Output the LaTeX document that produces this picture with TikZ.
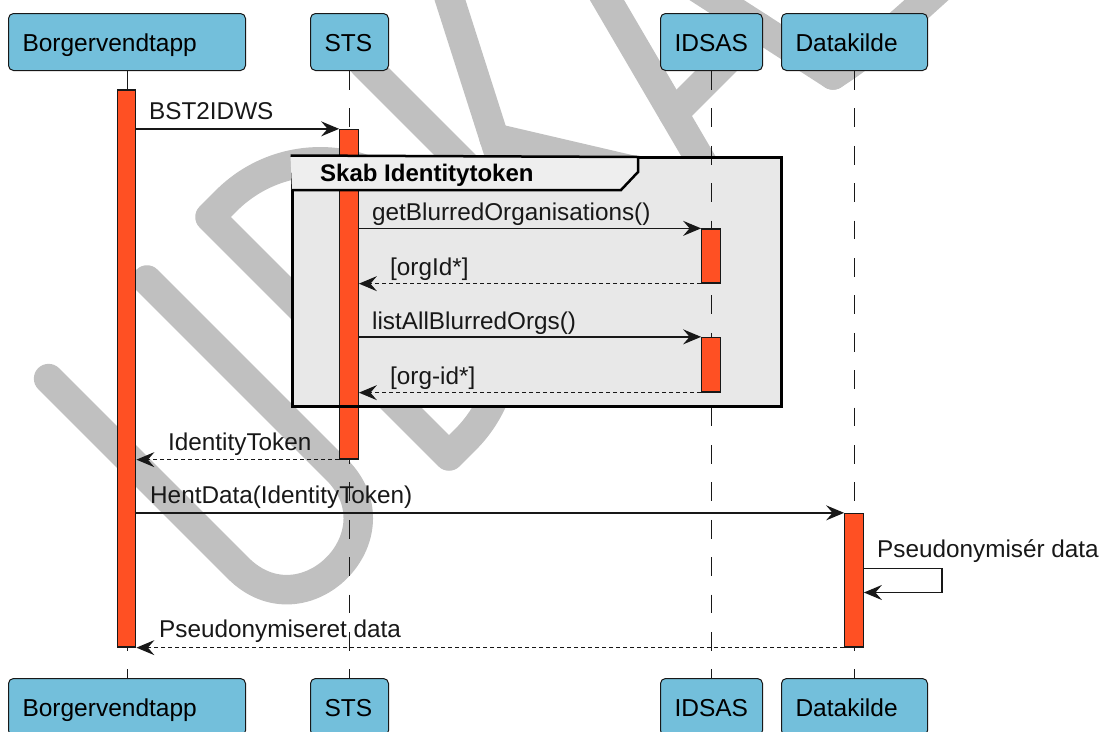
\documentclass[tikz,border=0pt]{standalone}
\usepackage{fontspec}
\setmainfont{Liberation Sans}
\usetikzlibrary{arrows.meta}
\definecolor{pfill}{RGB}{115,191,219}
\definecolor{afill}{RGB}{255,80,35}
\definecolor{ink}{RGB}{24,24,24}
\definecolor{wm}{RGB}{192,192,192}
\definecolor{grpfill}{RGB}{232,232,232}
\definecolor{tabfill}{RGB}{238,238,238}
\begin{document}
\begin{tikzpicture}[x=1pt,y=-1pt,
  pbox/.style={draw=ink, line width=1pt, fill=pfill, rounded corners=5pt,
    minimum height=57pt, inner xsep=14pt, inner ysep=0pt,
    text height=24pt, text depth=5pt, align=left,
    font=\fontsize{24.5}{29}\selectfont, anchor=north west},
  lifeline/.style={draw=ink, line width=1pt, dash pattern=on 18.7pt off 18.7pt},
  act/.style={draw=ink, line width=1.3pt, fill=afill, minimum width=18.5pt, inner sep=0pt},
  msg/.style={draw=ink, line width=1.3pt, -{Stealth[length=18pt,width=15pt,inset=6.5pt]}},
  ret/.style={msg, dash pattern=on 4pt off 3pt},
  lbl/.style={font=\fontsize{24.3}{28}\selectfont, inner sep=0pt, anchor=base west, text=ink},
  wmk/.style={draw=wm, line width=29.5pt, line cap=round, line join=round}
]
\useasboundingbox (0,0) rectangle (1099,731);
\fill[white] (0,0) rectangle (1099,731);

% watermark
\draw[wmk] (48.6,378.6) -- (238,568) .. controls (303.7,633.7) and (402.3,535.2) .. (336.6,469.5) -- (147,280);
\draw[wmk] (210,217) -- (449,456) -- (465.3,439.7) .. controls (517.2,387.8) and (517.2,303.6) .. (465.3,251.7)
  -- (414.4,200.8) .. controls (362.4,148.8) and (278.2,148.8) .. (226.3,200.7) -- cycle;
\draw[wmk] (363.5,63.5) -- (602.5,302.5);
\draw[wmk] (444.4,-17.5) -- (520.5,220.5);
\draw[wmk] (494,138) -- (715,189.5);
\draw[wmk] (717,188) -- (540.5,-113.5) -- (833,75);
\draw[wmk] (673.5,113.5) -- (759.4,27.6);
\draw[wmk] (833,75) .. controls (880,45) and (920,5) .. (960,-30);

% group body fill
\fill[grpfill] (292,157) rectangle (781,406);

% participants
\node[pbox, text width=209pt] (pB) at (8,13) {Borgervendtapp};
\node[pbox, text width=50pt] (pS) at (310,13) {STS};
\node[pbox, text width=74pt] (pI) at (660,13) {IDSAS};
\node[pbox, text width=118pt] (pD) at (781,13) {Datakilde};
\node[pbox, text width=209pt] (qB) at (8,678) {Borgervendtapp};
\node[pbox, text width=50pt] (qS) at (310,678) {STS};
\node[pbox, text width=74pt] (qI) at (660,678) {IDSAS};
\node[pbox, text width=118pt] (qD) at (781,678) {Datakilde};

% lifelines
\draw[lifeline] (pB.south) -- (qB.north);
\draw[lifeline] (pS.south) -- (qS.north);
\draw[lifeline] (pI.south) -- (qI.north);
\draw[lifeline] (pD.south) -- (qD.north);

% activations
\node[act, minimum height=557pt] (aB) at (126.5,368.5) {};
\node[act, minimum height=329.5pt] (aS) at (349,294.25) {};
\node[act, minimum height=54pt] (aI1) at (711,256) {};
\node[act, minimum height=54.5pt] (aI2) at (711,364.75) {};
\node[act, minimum height=133.5pt] (aD) at (854,580.25) {};

% group frame
\node[draw=black, line width=3pt, minimum width=489pt, minimum height=249pt, inner sep=0pt] (grp) at (536.5,281.5) {};
\filldraw[fill=tabfill, draw=black, line width=2.5pt, line join=miter] (grp.north west) -- (638,157) -- (638,172) -- (621,190) -- (292,190);
\node[font=\bfseries\fontsize{24}{28}\selectfont, inner sep=0pt, anchor=base west] (gt) at (320,181.5) {Skab Identitytoken};

% messages
\coordinate (selfout) at (942,568.5);
\coordinate (selfin) at (942,592.5);
\draw[msg] (aB.east |- aS.north) -- (aS.north west);
\draw[msg] (aS.east |- aI1.north) -- (aI1.north west);
\draw[ret] (aI1.south west) -- (aS.east |- aI1.south);
\draw[msg] (aS.east |- aI2.north) -- (aI2.north west);
\draw[ret] (aI2.south west) -- (aS.east |- aI2.south);
\draw[ret] (aS.south west) -- (aB.east |- aS.south);
\draw[msg] (aB.east |- aD.north) -- (aD.north west);
\draw[msg] (aD.east |- selfout) -- (selfout) -- (selfin) -- (aD.east |- selfin);
\draw[ret] (aD.south west) -- (aB.south east);

% labels
\node[lbl] (l1) at (149,119.5) {BST2IDWS};
\node[lbl] (l2) at (372,220.5) {getBlurredOrganisations()};
\node[lbl] (l3) at (390,275.5) {[orgId*]};
\node[lbl] (l4) at (372,329.5) {listAllBlurredOrgs()};
\node[lbl] (l5) at (390,384) {[org-id*]};
\node[lbl] (l6) at (168,450) {IdentityToken};
\node[lbl] (l7) at (150,503.5) {HentData(IdentityToken)};
\node[lbl] (l8) at (877,557) {Pseudonymisér data};
\node[lbl] (l9) at (159,637) {Pseudonymiseret data};
\end{tikzpicture}
\end{document}
